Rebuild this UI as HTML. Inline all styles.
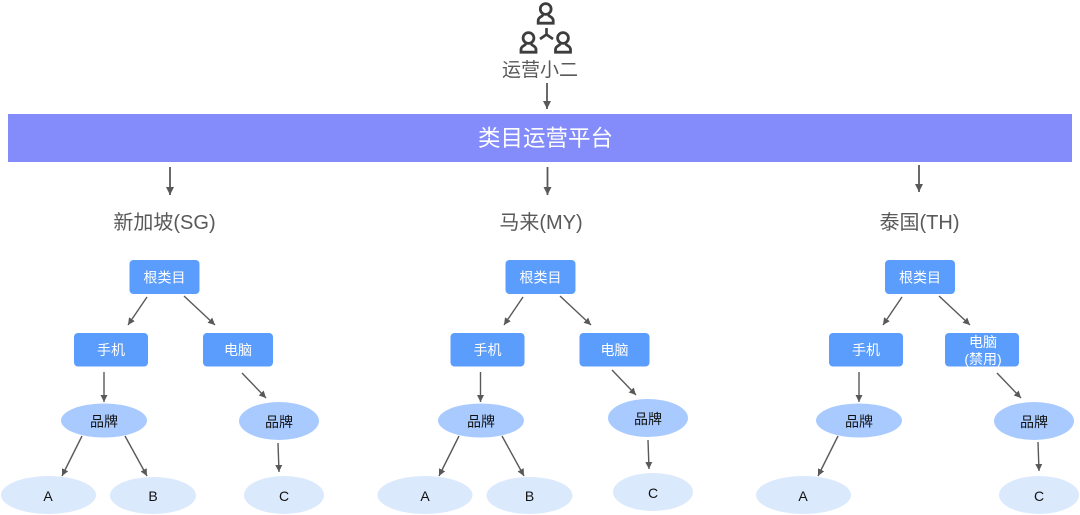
<!DOCTYPE html>
<html><head><meta charset="utf-8"><style>
html,body{margin:0;padding:0;background:#fff}
svg{display:block}
text{font-family:"Liberation Sans","Noto Sans CJK SC",sans-serif;text-anchor:middle}
.w{fill:#fff;font-size:14px}
.k{fill:#111;font-size:14px}
.h{fill:#595959;font-size:20px}
.l{stroke:#595959;stroke-width:1.4;fill:none}
.b{stroke:#595959;stroke-width:1.8;fill:none}
.box{fill:#5b9dfc}
.e1{fill:#a8caff}
.e2{fill:#dbe9fd}
.i{stroke:#3d3d3d;stroke-width:2.8;fill:none}
</style></head><body>
<svg width="1080" height="515" viewBox="0 0 1080 515" xmlns="http://www.w3.org/2000/svg">
<defs>
<marker id="a" markerUnits="userSpaceOnUse" markerWidth="8" markerHeight="8" refX="7" refY="4" orient="auto"><path d="M0 .5L7 4L0 7.5z" fill="#595959"/></marker>
<marker id="c" markerUnits="userSpaceOnUse" markerWidth="9" markerHeight="9" refX="8" refY="4.5" orient="auto"><path d="M0 .5L8 4.5L0 8.5z" fill="#595959"/></marker>
<g id="p"><circle cx="0" cy="7" r="5.4" class="i"/><path d="M-2.800 12.500C-2.800 15-7.500 14.500-7.500 18.500V21.200H7.500V18.500C7.500 14.500 2.800 15 2.800 12.500" class="i"/></g>
</defs>

<use href="#p" x="545.700" y="2"/>
<use href="#p" x="528.500" y="31"/>
<use href="#p" x="563" y="31"/>
<path d="M546.500 28V34.500M546.500 34.500L540 39M546.500 34.500L553 39" stroke="#3d3d3d" stroke-width="2.600" fill="none"/>
<text x="540" y="76" font-size="19" fill="#595959">运营小二</text>
<line x1="547" y1="83" x2="547" y2="109" class="b" marker-end="url(#c)"/>

<rect x="8" y="114" width="1064" height="48" fill="#838cfa"/>
<text x="545.500" y="146" font-size="22.500" fill="#fff">类目运营平台</text>

<line x1="170" y1="167" x2="170" y2="195" class="b" marker-end="url(#c)"/>
<line x1="547.500" y1="167" x2="547.500" y2="195" class="b" marker-end="url(#c)"/>
<line x1="919" y1="165" x2="919" y2="192" class="b" marker-end="url(#c)"/>

<text x="164.500" y="229" class="h">新加坡(SG)</text>
<text x="541" y="229" class="h">马来(MY)</text>
<text x="919.500" y="229" class="h">泰国(TH)</text>

<!-- SG -->
<rect x="129.500" y="260" width="70" height="34" rx="4" class="box"/>
<text x="164.500" y="282.500" class="w">根类目</text>
<rect x="74" y="333" width="74" height="33.500" rx="4" class="box"/>
<text x="111" y="355" class="w">手机</text>
<rect x="203" y="333" width="70" height="33.500" rx="4" class="box"/>
<text x="238" y="355" class="w">电脑</text>
<ellipse cx="104" cy="420.500" rx="43" ry="17" class="e1"/>
<text x="104" y="426.500" class="k">品牌</text>
<ellipse cx="279" cy="421" rx="40" ry="19" class="e1"/>
<text x="279" y="427" class="k">品牌</text>
<ellipse cx="48.500" cy="495" rx="47.500" ry="19" class="e2"/>
<text x="48" y="501" class="k">A</text>
<ellipse cx="153" cy="495.500" rx="43" ry="18.500" class="e2"/>
<text x="153" y="501" class="k">B</text>
<ellipse cx="284" cy="495" rx="40" ry="19" class="e2"/>
<text x="284" y="501" class="k">C</text>
<line x1="147" y1="297" x2="128" y2="325" class="l" marker-end="url(#a)"/>
<line x1="184" y1="296" x2="215" y2="325" class="l" marker-end="url(#a)"/>
<line x1="104" y1="372" x2="104" y2="402" class="l" marker-end="url(#a)"/>
<line x1="242" y1="373" x2="266" y2="398" class="l" marker-end="url(#a)"/>
<line x1="82" y1="436" x2="62" y2="476" class="l" marker-end="url(#a)"/>
<line x1="125" y1="436" x2="147" y2="476" class="l" marker-end="url(#a)"/>
<line x1="278" y1="443" x2="279" y2="472" class="l" marker-end="url(#a)"/>

<!-- MY -->
<rect x="505.500" y="260" width="70" height="34" rx="4" class="box"/>
<text x="540.500" y="282.500" class="w">根类目</text>
<rect x="450.500" y="333" width="74" height="33.500" rx="4" class="box"/>
<text x="487.500" y="355" class="w">手机</text>
<rect x="579.500" y="333" width="70" height="33.500" rx="4" class="box"/>
<text x="614.500" y="355" class="w">电脑</text>
<ellipse cx="481" cy="420.500" rx="43" ry="17" class="e1"/>
<text x="481" y="426.500" class="k">品牌</text>
<ellipse cx="648" cy="418" rx="40" ry="19" class="e1"/>
<text x="648" y="424" class="k">品牌</text>
<ellipse cx="425" cy="495" rx="47.500" ry="19" class="e2"/>
<text x="425" y="501" class="k">A</text>
<ellipse cx="529.500" cy="495.500" rx="43" ry="18.500" class="e2"/>
<text x="529.500" y="501" class="k">B</text>
<ellipse cx="653" cy="492" rx="40" ry="19" class="e2"/>
<text x="653" y="498" class="k">C</text>
<line x1="523" y1="297" x2="504" y2="325" class="l" marker-end="url(#a)"/>
<line x1="560" y1="296" x2="591" y2="325" class="l" marker-end="url(#a)"/>
<line x1="480.500" y1="372" x2="480.500" y2="402" class="l" marker-end="url(#a)"/>
<line x1="612" y1="370" x2="636" y2="395" class="l" marker-end="url(#a)"/>
<line x1="459" y1="436" x2="439" y2="476" class="l" marker-end="url(#a)"/>
<line x1="502" y1="436" x2="524" y2="476" class="l" marker-end="url(#a)"/>
<line x1="648" y1="440" x2="649" y2="469" class="l" marker-end="url(#a)"/>

<!-- TH -->
<rect x="885" y="260" width="70" height="34" rx="4" class="box"/>
<text x="920" y="282.500" class="w">根类目</text>
<rect x="829" y="333" width="74" height="33.500" rx="4" class="box"/>
<text x="866" y="355" class="w">手机</text>
<rect x="945" y="333" width="74" height="33.500" rx="4" class="box"/>
<text x="983" y="347" class="w">电脑</text>
<text x="983" y="364" class="w">(禁用)</text>
<ellipse cx="859" cy="420.500" rx="43" ry="17" class="e1"/>
<text x="859" y="426.500" class="k">品牌</text>
<ellipse cx="1034" cy="421" rx="40" ry="19" class="e1"/>
<text x="1034" y="427" class="k">品牌</text>
<ellipse cx="803.500" cy="495" rx="47.500" ry="19" class="e2"/>
<text x="803" y="501" class="k">A</text>
<ellipse cx="1039" cy="495" rx="40" ry="19" class="e2"/>
<text x="1039" y="501" class="k">C</text>
<line x1="902" y1="297" x2="883" y2="325" class="l" marker-end="url(#a)"/>
<line x1="939" y1="296" x2="970" y2="325" class="l" marker-end="url(#a)"/>
<line x1="859" y1="372" x2="859" y2="402" class="l" marker-end="url(#a)"/>
<line x1="997" y1="373" x2="1021" y2="398" class="l" marker-end="url(#a)"/>
<line x1="838" y1="436" x2="818" y2="476" class="l" marker-end="url(#a)"/>
<line x1="1038" y1="442" x2="1039" y2="471" class="l" marker-end="url(#a)"/>
</svg>
</body></html>
